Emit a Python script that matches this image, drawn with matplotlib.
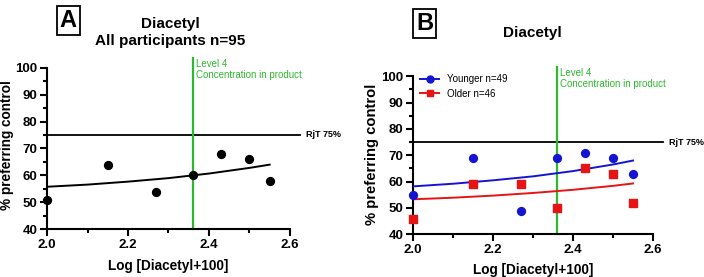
import matplotlib
matplotlib.use("Agg")
import matplotlib.pyplot as plt
from matplotlib.ticker import MultipleLocator

plt.rcParams['font.family'] = ['Liberation Sans', 'DejaVu Sans']

# Data
conc_x = [2.0, 2.15, 2.27, 2.36, 2.43, 2.50, 2.55]
all_y = [51, 64, 54, 60, 68, 66, 58]
young_y = [55, 69, 49, 69, 71, 69, 63]
old_y = [46, 59, 59, 50, 65, 63, 52]

fit_x = [2.0, 2.1, 2.2, 2.3, 2.4, 2.5, 2.55]
fit_all = [55.8, 56.6, 57.7, 59.0, 60.7, 62.8, 64.0]
fit_young = [58.2, 59.2, 60.5, 62.0, 64.0, 66.5, 68.0]
fit_old = [53.3, 53.9, 54.7, 55.7, 56.9, 58.4, 59.3]

level4_x = 2.36
rjt_y = 75
x_ticks = [2.0, 2.2, 2.4, 2.6]
y_ticks = [40, 50, 60, 70, 80, 90, 100]

fig = plt.figure(figsize=(7.04, 2.77), dpi=100)
axA = fig.add_axes([0.0668, 0.172, 0.345, 0.584])
axB = fig.add_axes([0.587, 0.154, 0.3406, 0.571])

GREEN = '#2db82d'
BLUE = '#1414d2'
RED = '#e61414'


def style(ax, ylab_fs, ylab_xy, xlab_y):
    ax.set_xlim(2.0, 2.6)
    ax.set_ylim(40, 100)
    ax.spines['top'].set_visible(False)
    ax.spines['right'].set_visible(False)
    for s in ['left', 'bottom']:
        ax.spines[s].set_linewidth(1.5)
    ax.set_xticks(x_ticks)
    ax.set_yticks(y_ticks)
    ax.xaxis.set_minor_locator(MultipleLocator(0.1))
    ax.yaxis.set_minor_locator(MultipleLocator(5))
    ax.tick_params(which='major', length=5, width=1.5, labelsize=9.5, pad=2)
    ax.tick_params(which='minor', length=3, width=1.5)
    for lab in ax.get_xticklabels() + ax.get_yticklabels():
        lab.set_fontweight('bold')
    ax.set_xlabel('Log [Diacetyl+100]', fontsize=9.8, fontweight='bold')
    ax.xaxis.set_label_coords(0.5, xlab_y)
    ax.set_ylabel('% preferring control', fontsize=ylab_fs, fontweight='bold')
    ax.yaxis.set_label_coords(*ylab_xy)
    ax.plot([2.0, 2.625], [rjt_y, rjt_y], color='black', lw=1.3, clip_on=False, zorder=2)
    ax.text(2.64, rjt_y, 'RjT 75%', fontsize=6.5, fontweight='bold', va='center', ha='left')
    ax.plot([level4_x, level4_x], [40, 103.5], color=GREEN, lw=1.6, clip_on=False, zorder=2)
    ax.text(level4_x + 0.008, 103.2, 'Level 4\nConcentration in product', color=GREEN,
            fontsize=7, va='top', ha='left', linespacing=1.1)


style(axA, 9.8, (-0.138, 0.52), -0.185)
style(axB, 10.6, (-0.142, 0.504), -0.18)

# Panel A
axA.plot(fit_x, fit_all, color='black', lw=1.4, zorder=3)
axA.scatter(conc_x, all_y, s=32, color='black', zorder=4, clip_on=False)

# Panel B
axB.plot(fit_x, fit_young, color=BLUE, lw=1.4, zorder=3)
axB.plot(fit_x, fit_old, color=RED, lw=1.4, zorder=3)
axB.scatter(conc_x, young_y, s=32, color=BLUE, marker='o', zorder=4, clip_on=False)
axB.scatter(conc_x, old_y, s=36, color=RED, marker='s', zorder=4, clip_on=False)

hy, = axB.plot([], [], color=BLUE, marker='o', ms=5, lw=1.4, label='Younger n=49')
ho, = axB.plot([], [], color=RED, marker='s', ms=5, lw=1.4, label='Older n=46')
axB.legend(handles=[hy, ho], loc='upper left', bbox_to_anchor=(0.0, 1.055), frameon=False,
           fontsize=7, handlelength=2.0, handletextpad=0.8, labelspacing=0.45,
           borderaxespad=0.3)

# Titles and panel labels
fig.text(0.242, 0.882, 'Diacetyl\nAll participants n=95', ha='center', va='center',
         fontsize=11, fontweight='bold', linespacing=1.3)
fig.text(0.756, 0.88, 'Diacetyl', ha='center', va='center', fontsize=11, fontweight='bold')

box = dict(boxstyle='square,pad=0.12', fc='white', ec='black', lw=1.3)
fig.text(0.097, 0.925, 'A', ha='center', va='center', fontsize=17, fontweight='bold', bbox=box)
fig.text(0.603, 0.915, 'B', ha='center', va='center', fontsize=17, fontweight='bold', bbox=box)

fig.savefig('out.png', dpi=100)
